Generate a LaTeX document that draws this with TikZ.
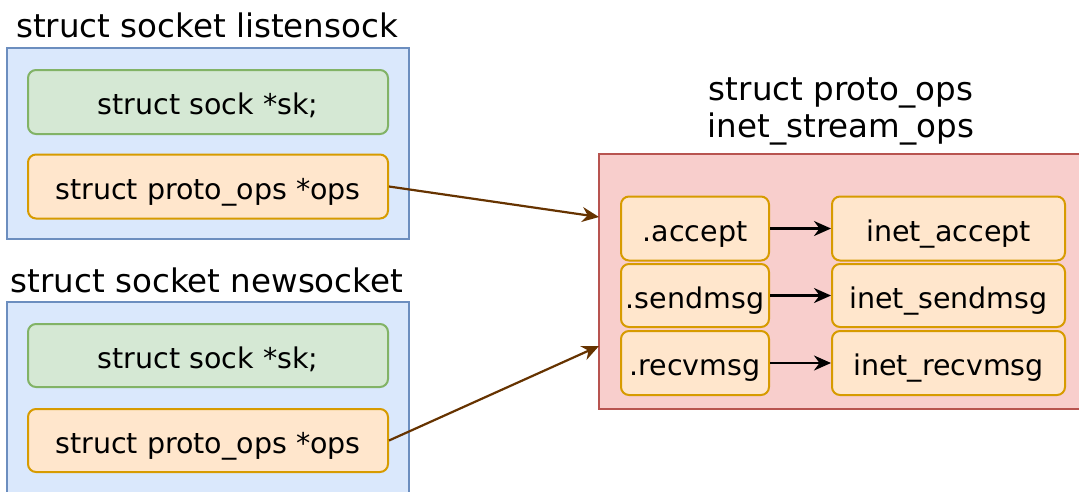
\documentclass[tikz,border=0pt]{standalone}
\usepackage{fontspec}
\setmainfont{DejaVu Sans}
\usetikzlibrary{arrows.meta}

\definecolor{bluefill}{HTML}{DAE8FC}
\definecolor{bluedraw}{HTML}{6C8EBF}
\definecolor{greenfill}{HTML}{D5E8D4}
\definecolor{greendraw}{HTML}{82B366}
\definecolor{orangefill}{HTML}{FFE6CC}
\definecolor{orangedraw}{HTML}{D79B00}
\definecolor{redfill}{HTML}{F8CECC}
\definecolor{reddraw}{HTML}{B85450}
\definecolor{brownline}{HTML}{663300}

\tikzset{
  sockbox/.style={draw=bluedraw, fill=bluefill, line width=2pt, minimum width=402pt, inner sep=0pt},
  opsbox/.style={draw=reddraw, fill=redfill, line width=2pt, minimum width=486pt, minimum height=255pt, inner sep=0pt},
  skfield/.style={draw=greendraw, fill=greenfill, line width=2pt, rounded corners=8pt, minimum width=360pt, minimum height=64pt,
    text height=29pt, text depth=4pt, font=\fontsize{28.5}{34}\selectfont},
  opsfield/.style={draw=orangedraw, fill=orangefill, line width=2pt, rounded corners=8pt, minimum height=64pt,
    text height=29pt, text depth=4pt, font=\fontsize{28.5}{34}\selectfont},
  title/.style={font=\fontsize{32.5}{37}\selectfont, align=center, inner sep=0pt},
  ptr/.style={draw=brownline, line width=2.2pt, -{Stealth[length=17pt,width=15pt]}},
  fn/.style={draw=black, line width=2.2pt, -{Stealth[length=17pt,width=15pt]}}
}

\begin{document}
\begin{tikzpicture}[x=1pt,y=1pt,yscale=-1,xscale=1]
		\useasboundingbox[fill=white] (0,0) rectangle (1079,491);

		%Shape: listensock
		\node [sockbox, minimum height=191pt] (listen) at (208,143.5) {};
		\node [skfield] (listensk) at (208,102) {struct sock *sk;};
		\node [opsfield, minimum width=360pt] (listenops) at (208,186.5) {struct proto\_ops *ops};
		% Text Node
		\node [title] (listentitle) at (207,25) {struct socket listensock};

		%Shape: newsocket
		\node [sockbox, minimum height=200pt] (new) at (208,402) {};
		\node [skfield, minimum height=63pt] (newsk) at (208,355.5) {struct sock *sk;};
		\node [opsfield, minimum width=360pt, minimum height=63pt] (newops) at (208,440.5) {struct proto\_ops *ops};
		% Text Node
		\node [title] (newtitle) at (207,280) {struct socket newsocket};

		%Shape: inet_stream_ops
		\node [opsbox] (stream) at (842,281.5) {};
		% Text Node
		\node [title] (streamtitle) at (841,111.5) {struct proto\_ops\\inet\_stream\_ops};

		%Shape: function table
		\node [opsfield, minimum width=148pt] (accept) at (695,228.5) {.accept};
		\node [opsfield, minimum width=148pt, minimum height=63pt] (sendmsg) at (695,295.5) {.sendmsg};
		\node [opsfield, minimum width=148pt] (recvmsg) at (695,363) {.recvmsg};
		\node [opsfield, minimum width=233pt] (inetaccept) at (948.5,228.5) {inet\_accept};
		\node [opsfield, minimum width=233pt, minimum height=63pt] (inetsendmsg) at (948.5,295.5) {inet\_sendmsg};
		\node [opsfield, minimum width=233pt] (inetrecvmsg) at (948.5,363) {inet\_recvmsg};

		%Straight Lines
		\draw [fn] (accept) -- (inetaccept);
		\draw [fn] (sendmsg) -- (inetsendmsg);
		\draw [fn] (recvmsg) -- (inetrecvmsg);

		%Straight Lines
		\coordinate (listenin) at (599,217);
		\coordinate (newin) at (599,346);
		\draw [ptr] (listenops.east) -- (listenin);
		\draw [ptr] (newops.east) -- (newin);
	\end{tikzpicture}
\end{document}
